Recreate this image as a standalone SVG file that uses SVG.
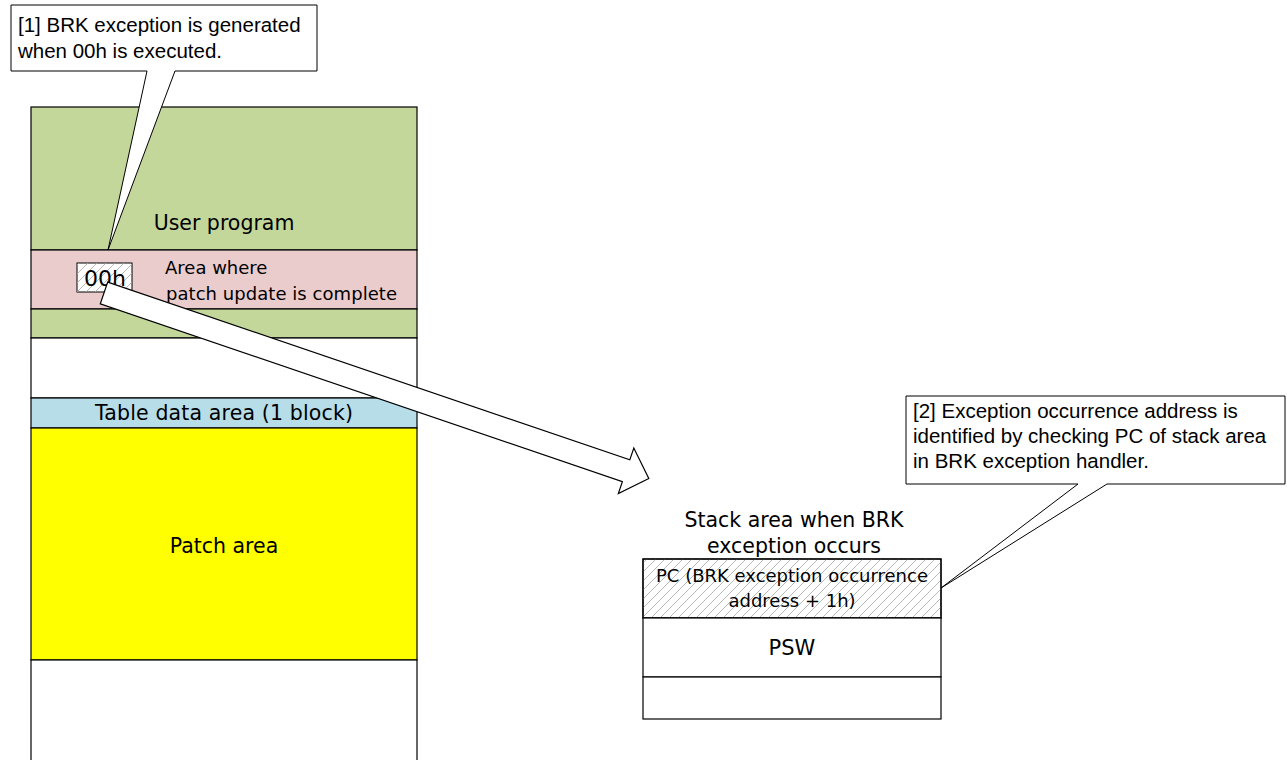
<svg xmlns="http://www.w3.org/2000/svg" width="1287" height="760" viewBox="0 0 1287 760">
<defs>
<pattern id="hatch" patternUnits="userSpaceOnUse" width="9" height="9">
<path d="M-1,1 L1,-1 M0,9 L9,0 M8,10 L10,8" stroke="#A6A6A6" stroke-width="0.8"/>
</pattern>
</defs>
<style>
.band{stroke:#000;stroke-width:1.2}
.g{font-family:"DejaVu Sans","Noto Sans CJK JP",sans-serif;font-size:18px;fill:#000}
.big{font-size:20.5px}
.c{font-family:"Liberation Sans",Arial,sans-serif;font-size:20.5px;fill:#000}
.mid{text-anchor:middle}
.call{fill:#fff;stroke:#000;stroke-width:1}
</style>
<rect width="1287" height="760" fill="#fff"/>

<g id="memory-map">
<rect class="band" x="31" y="107" width="386" height="143" fill="#C4D79B"/>
<rect class="band" x="31" y="250" width="386" height="59" fill="#EBCCCC"/>
<rect class="band" x="31" y="309" width="386" height="29" fill="#C4D79B"/>
<rect class="band" x="31" y="338" width="386" height="60" fill="#fff"/>
<rect class="band" x="31" y="398" width="386" height="30" fill="#B7DDE8"/>
<rect class="band" x="31" y="428" width="386" height="232" fill="#FFFF00"/>
<rect class="band" x="31" y="660" width="386" height="110" fill="#fff"/>
<text class="g big mid" x="224" y="230">User program</text>
<text class="g" x="165" y="274">Area where</text>
<text class="g" x="166" y="300" textLength="231">patch update is complete</text>
<text class="g big mid" x="224" y="420" textLength="258">Table data area (1 block)</text>
<text class="g big mid" x="224" y="553">Patch area</text>
</g>

<g id="node-00h">
<rect x="77" y="263" width="55" height="29" fill="#fff" stroke="#000" stroke-width="1"/>
<rect x="77" y="263" width="55" height="29" fill="url(#hatch)"/>
<text class="g mid" x="105" y="286" style="font-size:22px">00h</text>
</g>

<g id="stack-area">
<text class="g big mid" x="794" y="527">Stack area when BRK</text>
<text class="g big mid" x="794" y="553">exception occurs</text>
<rect x="643" y="559" width="298" height="59" fill="#fff" stroke="#000" stroke-width="1.2"/>
<rect x="643" y="559" width="298" height="59" fill="url(#hatch)" stroke="#000" stroke-width="1.2"/>
<rect x="643" y="618" width="298" height="59" fill="#fff" stroke="#000" stroke-width="1.2"/>
<rect x="643" y="677" width="298" height="42" fill="#fff" stroke="#000" stroke-width="1.2"/>
<text class="g mid" x="792" y="582">PC (BRK exception occurrence</text>
<text class="g mid" x="792" y="607">address + 1h)</text>
<text class="g mid" x="792" y="655" style="font-size:21px">PSW</text>
</g>

<g id="connectors">
<polygon transform="translate(104,293) rotate(18.8)" points="0,-11.5 551.5,-11.5 551.5,-24 575.5,0 551.5,24 551.5,11.5 0,11.5" fill="#fff" stroke="#000" stroke-width="1.2" stroke-linejoin="miter"/>
</g>

<g id="callout-1">
<path class="call" d="M11,5 H317 V71 H175 L108,250 L147,71 H11 Z"/>
<text class="c" x="18" y="32">[1] BRK exception is generated</text>
<text class="c" x="18" y="58">when 00h is executed.</text>
</g>

<g id="callout-2">
<path class="call" d="M906,396 H1285 V484 H1107 L941,588 L1078,484 H906 Z"/>
<text class="c" x="913" y="418">[2] Exception occurrence address is</text>
<text class="c" x="913" y="443">identified by checking PC of stack area</text>
<text class="c" x="913" y="468">in BRK exception handler.</text>
</g>
</svg>
